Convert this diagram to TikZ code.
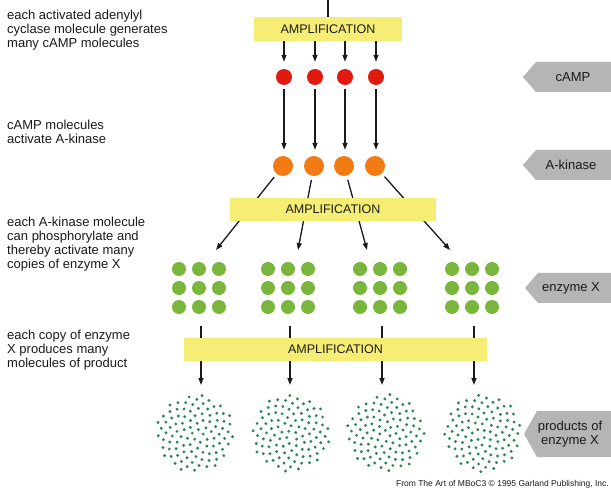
\documentclass[tikz,border=0pt]{standalone}
\usepackage{fontspec}
\setmainfont{Liberation Sans}
\usetikzlibrary{arrows.meta}
\definecolor{ampyellow}{HTML}{F6EE74}
\definecolor{redc}{HTML}{E01A0E}
\definecolor{orangec}{HTML}{F27B14}
\definecolor{greenc}{HTML}{7AB63C}
\definecolor{dotc}{HTML}{2A8652}
\definecolor{labgrey}{HTML}{B5B5B5}
\definecolor{txt}{HTML}{1A1A1A}
\begin{document}
\begin{tikzpicture}[x=1pt,y=-1pt,
  amp/.style={fill=ampyellow, inner sep=0pt, text=txt, font=\fontsize{12.5}{14}\selectfont},
  arr/.style={line width=1.3pt, txt, -{Triangle[length=7pt,width=5pt]}},
  ln/.style={line width=1.3pt, txt},
  redball/.style={circle, fill=redc, minimum size=16pt, inner sep=0pt},
  orball/.style={circle, fill=orangec, minimum size=20pt, inner sep=0pt},
  gball/.style={circle, fill=greenc, minimum size=14pt, inner sep=0pt},
  lefttext/.style={anchor=north west, align=left, inner sep=0pt, text=txt, font=\fontsize{13}{14}\selectfont},
  labtext/.style={align=center, inner sep=0pt, text=txt, font=\fontsize{13}{14.5}\selectfont},
  labshape/.style={fill=labgrey}
]
\clip (0,0) rectangle (611,489);
\fill[white] (0,0) rectangle (611,489);

% left texts
\node[lefttext] (t1) at (7,9.5) {each activated adenylyl\\cyclase molecule generates\\many cAMP molecules};
\node[lefttext] (t2) at (7,119.5) {cAMP molecules\\activate A-kinase};
\node[lefttext] (t3) at (7,216.5) {each A-kinase molecule\\can phosphorylate and\\thereby activate many\\copies of enzyme X};
\node[lefttext] (t4) at (7,329.5) {each copy of enzyme\\X produces many\\molecules of product};

% top line and first amplification
\coordinate (top) at (328,0);
\node[amp, minimum width=148pt, minimum height=24pt] (amp1) at (328,29) {AMPLIFICATION};
\draw[ln] (top) -- (amp1.north);

% red cAMP and orange A-kinase
\foreach \x [count=\i] in {284,315,345,376} {
  \node[redball] (r\i) at (\x,77) {};
  \node[orball] (o\i) at (\x-1,166) {};
  \draw[arr, shorten >=7pt] (amp1.south -| r\i) -- (r\i.north);
  \draw[arr, shorten <=4pt, shorten >=6pt] (r\i.south) -- (r\i.south |- o\i.north);
}

% orange to green
\coordinate (e1) at (216,250);
\coordinate (e2) at (298,250);
\coordinate (e3) at (367,250);
\coordinate (e4) at (450,250);
\foreach \i in {1,...,4} {
  \draw[arr, shorten <=4pt] (o\i) -- (e\i);
}
\node[amp, minimum width=206pt, minimum height=23pt] (amp2) at (333,209.5) {AMPLIFICATION};

% green enzyme X groups
\foreach \gx [count=\k] in {199,288,380,472} {
  \foreach \dx [count=\i] in {-20,0,20} {
    \foreach \dy [count=\j] in {-19,0,19} {
      \node[gball] (g\k-\i-\j) at (\gx+\dx,288+\dy) {};
    }
  }
  \coordinate (u\k) at (\gx+2,326);
  \coordinate (v\k) at (\gx+2,385);
  \draw[arr] (u\k) -- (v\k);
}
\node[amp, minimum width=303pt, minimum height=23pt] (amp3) at (335.5,349.5) {AMPLIFICATION};

% product clouds
\foreach \cx [count=\k] in {195,291,386,483} {
  \coordinate (c\k) at (\cx,433);
  \foreach \n in {1,...,100} {
    \pgfmathsetmacro\rr{39*sqrt((\n-0.5)/100)}
    \pgfmathsetmacro\aa{\n*137.508+\k*40}
    \fill[dotc, shift={(c\k)}] (\aa:\rr) circle[radius=1.6pt];
  }
}

% right labels
\fill[labshape] (523,77) -- (536,62) -- (611,62) -- (611,92) -- (536,92) -- cycle;
\node[labtext] (lcamp) at (573,77) {cAMP};
\fill[labshape] (523,165) -- (536,150) -- (611,150) -- (611,180) -- (536,180) -- cycle;
\node[labtext] (lkin) at (571,165) {A-kinase};
\fill[labshape] (525,288) -- (538,273) -- (611,273) -- (611,303) -- (538,303) -- cycle;
\node[labtext] (lenz) at (571,288) {enzyme X};
\fill[labshape] (524,434) -- (537,411) -- (611,411) -- (611,457) -- (537,457) -- cycle;
\node[labtext] (lprod) at (570,434) {products of\\enzyme X};

% caption
\node[anchor=base east, inner sep=0pt, text=txt, font=\fontsize{8.5}{10}\selectfont] (cap) at (609,486) {From The Art of MBoC3 © 1995 Garland Publishing, Inc.};
\end{tikzpicture}
\end{document}
